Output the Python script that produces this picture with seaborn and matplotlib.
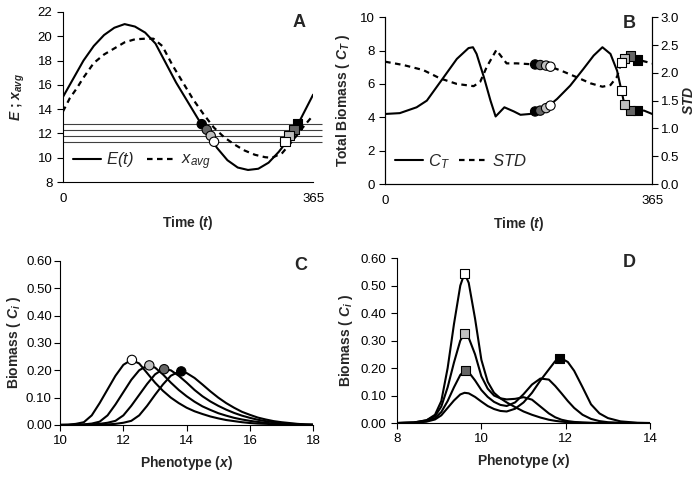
import numpy as np
import pandas as pd
import seaborn as sns
import matplotlib.pyplot as plt
from matplotlib.ticker import FormatStrFormatter

# ---- panel A: environment E(t) and mean phenotype x_avg over one year
a_t = [0, 15, 30, 45, 60, 75, 90, 105, 120, 135, 150, 165, 180, 195, 210,
       225, 240, 255, 270, 285, 300, 315, 330, 345, 365]
a_E = [15.0, 16.5, 18.0, 19.2, 20.1, 20.7, 21.0, 20.8, 20.3, 19.4, 17.8, 16.2,
       14.8, 13.4, 12.0, 10.8, 9.8, 9.2, 9.0, 9.1, 9.6, 10.5, 11.6, 13.0, 15.2]
a_tx = [0, 10, 20, 30, 45, 60, 75, 90, 105, 120, 132, 145, 160, 175, 190, 205,
        220, 235, 250, 265, 280, 295, 305, 320, 335, 350, 365]
a_xavg = [13.8, 14.9, 15.7, 16.6, 17.8, 18.5, 19.0, 19.5, 19.75, 19.8, 19.8,
          19.2, 17.6, 16.2, 14.8, 13.6, 12.5, 11.7, 11.1, 10.6, 10.25, 10.05,
          10.0, 10.4, 11.4, 12.5, 13.5]
a_levels = [12.77, 12.31, 11.81, 11.32]
a_circ_t = [202.5, 209.8, 215.6, 220.5]
a_sq_t = [342, 337, 330, 324]

# ---- panel B: total biomass and phenotype spread
b_t = [0, 20, 43, 57, 80, 98, 114, 120, 125, 135, 144, 151, 163, 176, 185, 198,
       208, 220, 235, 253, 271, 285, 297, 308, 317, 323, 327, 331, 345, 354, 365]
b_ct = [4.2, 4.25, 4.6, 5.0, 6.4, 7.5, 8.15, 8.2, 7.8, 6.4, 5.0, 4.05, 4.6, 4.35,
        4.15, 4.2, 4.35, 4.55, 5.1, 5.9, 6.9, 7.7, 8.2, 7.8, 6.8, 5.6, 4.78, 4.4,
        4.4, 4.4, 4.2]
b_ts = [0, 25, 52, 75, 98, 121, 130, 139, 152, 166, 180, 205, 226, 244, 262, 281,
        297, 308, 317, 323, 328, 338, 347, 365]
b_std = [2.2, 2.14, 2.05, 1.9, 1.8, 1.76, 1.84, 2.11, 2.41, 2.17, 2.17, 2.15,
         2.11, 2.02, 1.92, 1.81, 1.75, 1.78, 1.93, 2.19, 2.26, 2.29, 2.23, 2.17]
b_circ_t = [205, 212, 220, 226]
b_circ_ct = [4.35, 4.4, 4.55, 4.7]
b_circ_std = [2.15, 2.14, 2.13, 2.11]
b_sq_t = [345, 335, 327, 323]
b_sq_ct = [4.4, 4.4, 4.78, 5.6]
b_sq_std = [2.23, 2.3, 2.26, 2.19]

# ---- panel C: unimodal phenotype distributions (white, light, dark, black)
c_x = [10.0, 10.25, 10.5, 10.75, 11.0, 11.25, 11.5, 11.75, 12.0, 12.25, 12.5,
       12.75, 13.0, 13.25, 13.5, 13.75, 14.0, 14.25, 14.5, 14.75, 15.0, 15.25,
       15.5, 15.75, 16.0, 16.25, 16.5, 16.75, 17.0, 17.25, 17.5, 17.75, 18.0]
c_white = [0, 0.001, 0.004, 0.01, 0.035, 0.08, 0.13, 0.18, 0.22, 0.238, 0.225,
           0.19, 0.155, 0.125, 0.1, 0.08, 0.063, 0.05, 0.04, 0.031, 0.024,
           0.018, 0.014, 0.01, 0.007, 0.005, 0.004, 0.003, 0.002, 0.001,
           0.001, 0, 0]
c_light = [0, 0, 0.001, 0.002, 0.005, 0.012, 0.035, 0.075, 0.12, 0.165, 0.2,
           0.217, 0.21, 0.185, 0.155, 0.128, 0.105, 0.085, 0.068, 0.055, 0.043,
           0.034, 0.026, 0.02, 0.015, 0.011, 0.008, 0.005, 0.004, 0.002, 0.001,
           0.001, 0]
c_dark = [0, 0, 0, 0.001, 0.002, 0.004, 0.008, 0.015, 0.035, 0.07, 0.11, 0.15,
          0.185, 0.204, 0.2, 0.18, 0.155, 0.128, 0.105, 0.086, 0.07, 0.056,
          0.044, 0.034, 0.026, 0.019, 0.014, 0.01, 0.007, 0.004, 0.003, 0.001,
          0.001]
c_black = [0, 0, 0, 0, 0.001, 0.001, 0.002, 0.004, 0.008, 0.015, 0.035, 0.07,
           0.11, 0.148, 0.18, 0.195, 0.19, 0.172, 0.148, 0.123, 0.1, 0.08,
           0.063, 0.048, 0.037, 0.027, 0.02, 0.014, 0.01, 0.007, 0.004, 0.002,
           0.001]
c_peak_x = [12.27, 12.82, 13.29, 13.83]
c_peak_y = [0.238, 0.218, 0.204, 0.196]

# ---- panel D: bimodal phenotype distributions
d_x = [8.0, 8.4, 8.7, 8.9, 9.05, 9.2, 9.35, 9.5, 9.6, 9.7, 9.85, 10.0, 10.15,
       10.3, 10.45, 10.6, 10.8, 11.0, 11.2, 11.4, 11.6, 11.75, 11.9, 12.05,
       12.2, 12.4, 12.6, 12.8, 13.0, 13.3, 13.7, 14.0]
d_white = [0, 0.002, 0.01, 0.03, 0.08, 0.2, 0.36, 0.5, 0.545, 0.51, 0.38, 0.23,
           0.15, 0.11, 0.09, 0.075, 0.058, 0.042, 0.03, 0.02, 0.012, 0.008,
           0.005, 0.003, 0.002, 0.001, 0, 0, 0, 0, 0, 0]
d_light = [0, 0.002, 0.01, 0.025, 0.06, 0.13, 0.22, 0.3, 0.325, 0.31, 0.25,
           0.17, 0.125, 0.1, 0.09, 0.086, 0.088, 0.094, 0.085, 0.06, 0.035,
           0.021, 0.012, 0.007, 0.004, 0.002, 0.001, 0, 0, 0, 0, 0]
d_dark = [0, 0.001, 0.007, 0.018, 0.04, 0.08, 0.13, 0.175, 0.19, 0.185, 0.155,
          0.12, 0.095, 0.077, 0.066, 0.062, 0.075, 0.105, 0.14, 0.162, 0.158,
          0.135, 0.108, 0.08, 0.055, 0.03, 0.015, 0.007, 0.003, 0.001, 0, 0]
d_black = [0, 0.001, 0.005, 0.013, 0.028, 0.055, 0.082, 0.104, 0.11, 0.108,
           0.095, 0.078, 0.062, 0.051, 0.044, 0.042, 0.052, 0.075, 0.11, 0.155,
           0.195, 0.225, 0.235, 0.222, 0.19, 0.13, 0.068, 0.035, 0.018, 0.006,
           0.001, 0]
d_peak_x = [9.6, 9.6, 9.62, 11.85]
d_peak_y = [0.545, 0.325, 0.19, 0.235]

stages = ["black", "dark", "light", "white"]
shade = {"black": "black", "dark": "0.4", "light": "0.75", "white": "white"}

sns.set_style("ticks")
plt.rcParams["font.family"] = ["Liberation Sans", "DejaVu Sans"]
plt.rcParams["mathtext.fontset"] = "custom"
plt.rcParams["mathtext.rm"] = "Liberation Sans:bold"
plt.rcParams["mathtext.bf"] = "Liberation Sans:bold"
plt.rcParams["mathtext.it"] = "Liberation Sans:italic:bold"
plt.rcParams["mathtext.sf"] = "Liberation Sans:italic"
plt.rcParams["axes.edgecolor"] = "black"
plt.rcParams["xtick.color"] = "black"
plt.rcParams["ytick.color"] = "black"
plt.rcParams["lines.solid_joinstyle"] = "round"


def marks(ax, xs, ys, order, marker):
    df = pd.DataFrame({"x": xs, "y": ys, "s": order})
    sns.scatterplot(data=df, x="x", y="y", hue="s", palette=shade, marker=marker,
                    s=45, edgecolor="black", linewidth=0.8, legend=False,
                    ax=ax, zorder=5, clip_on=False)


def style(ax, letter, lx, ly):
    ax.tick_params(direction="out", length=4, width=0.8, labelsize=9.5)
    ax.text(lx, ly, letter, transform=ax.transAxes, ha="right", va="center",
            fontsize=13, fontweight="bold")


fig = plt.figure(figsize=(6.99, 4.78), dpi=100)
axA = fig.add_axes([0.090, 0.619, 0.358, 0.356])
axB = fig.add_axes([0.551, 0.615, 0.382, 0.349])
axC = fig.add_axes([0.086, 0.111, 0.362, 0.343])
axD = fig.add_axes([0.568, 0.115, 0.362, 0.345])

# A
for lev in a_levels:
    axA.hlines(lev, 0, 378, color="0.25", lw=0.8, clip_on=False)
sns.lineplot(x=a_t, y=a_E, color="black", lw=1.5, ax=axA, label=r"$\mathsf{E(t)}$")
sns.lineplot(x=a_tx, y=a_xavg, color="black", lw=1.6, ax=axA,
             label=r"$\mathsf{x_{avg}}$", linestyle=(0, (2.5, 2)))
marks(axA, a_circ_t, a_levels, stages, "o")
marks(axA, a_sq_t, a_levels, stages, "s")
axA.set_xlim(0, 365)
axA.set_ylim(8, 22)
axA.set_yticks(range(8, 23, 2))
axA.set_xticks([0, 365])
axA.set_xlabel("Time ($t$)", fontsize=10, fontweight="bold", labelpad=6)
axA.set_ylabel("$E$ ; $x_{avg}$", fontsize=10, fontweight="bold", labelpad=8)
axA.legend(loc="lower left", frameon=False, ncol=2, fontsize=12, handlelength=1.7,
           handletextpad=0.3, columnspacing=0.8, borderaxespad=0.2,
           bbox_to_anchor=(0.0, 0.0))
sns.despine(ax=axA)
style(axA, "A", 0.97, 0.94)
axA.tick_params(axis="x", length=0, pad=8)

# B
axB2 = axB.twinx()
sns.lineplot(x=b_t, y=b_ct, color="black", lw=1.5, ax=axB, label=r"$\mathsf{C_T}$")
sns.lineplot(x=b_ts, y=b_std, color="black", lw=1.6, ax=axB2, linestyle=(0, (2.5, 2)),
             legend=False)
axB.plot([], [], color="black", lw=1.6, linestyle=(0, (2.5, 2)), label=r"$\mathsf{STD}$")
marks(axB, b_circ_t, b_circ_ct, stages, "o")
marks(axB2, b_circ_t, b_circ_std, stages, "o")
marks(axB, b_sq_t, b_sq_ct, stages, "s")
marks(axB2, b_sq_t, b_sq_std, stages, "s")
axB.set_xlim(0, 365)
axB.set_ylim(0, 10)
axB2.set_ylim(0, 3)
axB.set_yticks(range(0, 11, 2))
axB2.set_yticks(np.arange(0, 3.01, 0.5))
axB2.yaxis.set_major_formatter(FormatStrFormatter("%.1f"))
axB.set_xticks([0, 365])
axB.set_xlabel("Time ($t$)", fontsize=10, fontweight="bold", labelpad=6)
axB.set_ylabel("Total Biomass ( $C_T$ )", fontsize=10, fontweight="bold", labelpad=6)
axB2.set_ylabel("$STD$", fontsize=10, fontweight="bold", labelpad=2)
axB.legend(loc="lower left", frameon=False, ncol=2, fontsize=12, handlelength=1.7,
           handletextpad=0.3, columnspacing=0.5, borderaxespad=0.2,
           bbox_to_anchor=(0.0, 0.02))
sns.despine(ax=axB, right=False)
sns.despine(ax=axB2, right=False)
style(axB, "B", 0.94, 0.96)
axB2.tick_params(direction="out", length=4, width=0.8, labelsize=9.5, pad=2)
axB.tick_params(axis="x", length=0, pad=8)

# C
for ys in [c_white, c_light, c_dark, c_black]:
    sns.lineplot(x=c_x, y=ys, color="black", lw=1.5, ax=axC)
marks(axC, c_peak_x, c_peak_y, stages[::-1], "o")
axC.set_xlim(10, 18)
axC.set_ylim(0, 0.6)
axC.set_xticks(range(10, 19, 2))
axC.set_yticks(np.arange(0, 0.61, 0.1))
axC.yaxis.set_major_formatter(FormatStrFormatter("%.2f"))
axC.set_xlabel("Phenotype ($x$)", fontsize=10, fontweight="bold", labelpad=5)
axC.set_ylabel("Biomass ( $C_i$ )", fontsize=10, fontweight="bold", labelpad=2)
sns.despine(ax=axC)
style(axC, "C", 0.975, 0.975)
axC.tick_params(axis="y", pad=2)

# D
for ys in [d_white, d_light, d_dark, d_black]:
    sns.lineplot(x=d_x, y=ys, color="black", lw=1.5, ax=axD)
marks(axD, d_peak_x, d_peak_y, stages[::-1], "s")
axD.set_xlim(8, 14)
axD.set_ylim(0, 0.6)
axD.set_xticks(range(8, 15, 2))
axD.set_yticks(np.arange(0, 0.61, 0.1))
axD.yaxis.set_major_formatter(FormatStrFormatter("%.2f"))
axD.set_xlabel("Phenotype ($x$)", fontsize=10, fontweight="bold", labelpad=5)
axD.set_ylabel("Biomass ( $C_i$ )", fontsize=10, fontweight="bold", labelpad=4)
sns.despine(ax=axD)
style(axD, "D", 0.945, 0.975)

fig.savefig("out.png", dpi=100)
